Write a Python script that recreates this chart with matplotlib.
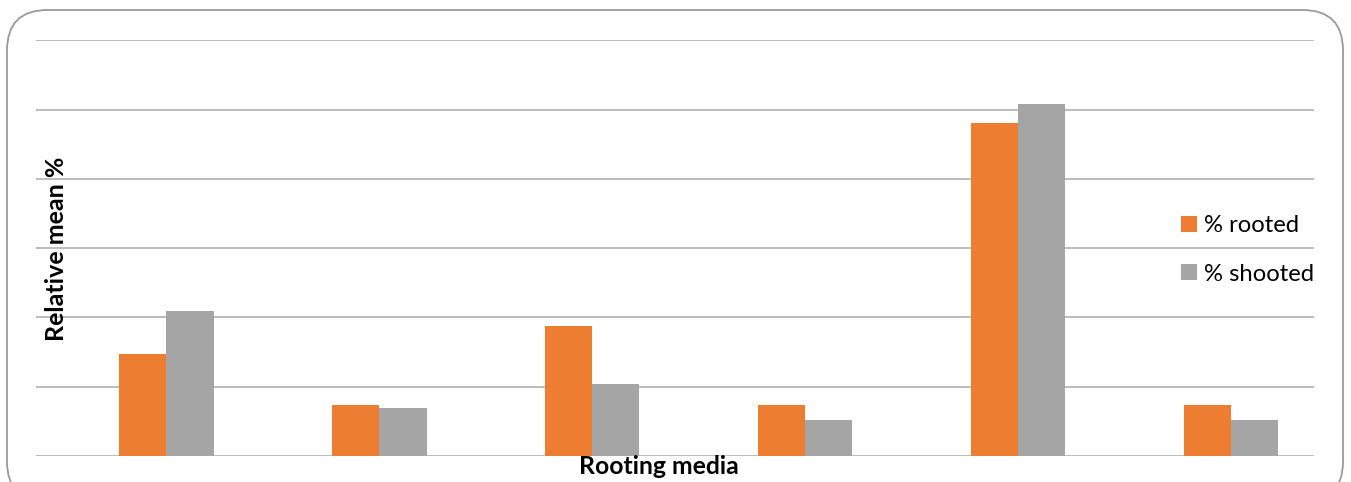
import numpy as np
import matplotlib
matplotlib.use("Agg")
import matplotlib.pyplot as plt
from matplotlib.patches import FancyBboxPatch

plt.rcParams['font.family'] = ['Lato', 'DejaVu Sans']

# values (gridline step = 10, axis labels hidden in original)
rooted = [14.7, 7.3, 18.8, 7.3, 48.1, 7.4]
shooted = [21.0, 6.9, 10.4, 5.2, 50.8, 5.2]
series_names = ["% rooted", "% shooted"]
colors = ["#ED7D31", "#A5A5A5"]

fig = plt.figure(figsize=(13.51, 4.82), dpi=100)

# rounded outer frame
frame = FancyBboxPatch((7 / 1351, -20 / 482), 1336 / 1351, 492 / 482,
                       boxstyle="round,pad=0,rounding_size=0.03",
                       transform=fig.transFigure, facecolor="none",
                       edgecolor="#9a9a9a", linewidth=1.3, mutation_aspect=1351 / 482)
fig.patches.append(frame)

ax = fig.add_axes([36 / 1351, 1 - 456 / 482, (1314 - 36) / 1351, (456 - 40.3) / 482])

x = np.arange(len(rooted))
w = 0.222
ax.bar(x - w / 2, rooted, w, color=colors[0], label=series_names[0])
ax.bar(x + w / 2, shooted, w, color=colors[1], label=series_names[1])

ax.set_ylim(0, 60)
ax.set_xlim(-0.612, 5.39)
ax.set_yticks(np.arange(0, 61, 10))
ax.set_xticks([])
ax.tick_params(axis='y', length=0, labelleft=False)
ax.grid(axis='y', color="#b0b0b0", linewidth=1.2)
ax.set_axisbelow(True)
for s in ax.spines.values():
    s.set_visible(False)

fig.text(57 / 1351, 1 - 249 / 482, "Relative mean %", rotation=90, fontsize=18,
         fontweight='bold', ha='center', va='center')
fig.text(659 / 1351, 1 - 467 / 482, "Rooting media", fontsize=17.8,
         fontweight='bold', ha='center', va='center')

fig.legend(loc='center left', bbox_to_anchor=(1181 / 1351, 1 - 250 / 482),
           frameon=False, fontsize=17.2, handlelength=0.65, handleheight=0.65,
           handletextpad=0.3, labelspacing=1.15, borderpad=0, borderaxespad=0)

fig.savefig("out.png", dpi=100)
